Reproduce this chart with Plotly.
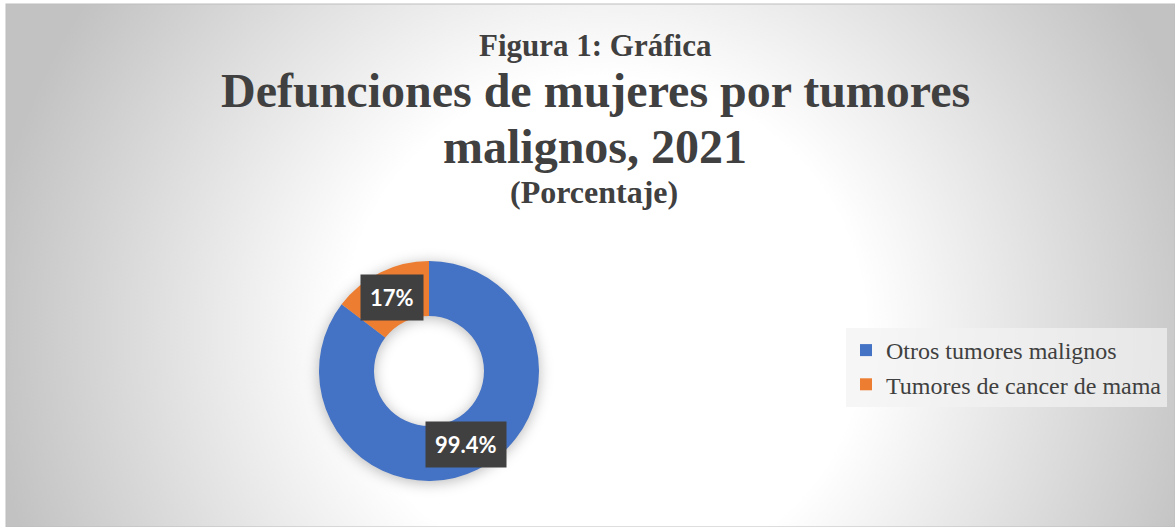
import base64
import math

import plotly.graph_objects as go

W, H = 1175, 527

etiquetas = ["Otros tumores malignos", "Tumores de cancer de mama"]
valores = [99.4, 17]
textos = ["99.4%", "17%"]
colores = ["#4472C4", "#ED7D31"]

encabezado = "Figura 1: Defunciones de mujeres por tumores malignos, 2021 (Porcentaje)"
titulo_sup = "Figura 1: Gráfica"
titulo = ["Defunciones de mujeres por tumores", "malignos, 2021"]
subtitulo = "(Porcentaje)"

GRIS = "#404040"
SERIF = "Liberation Serif"

# geometria del anillo (pixeles)
CX, CY, R, HOLE = 429, 371, 110, 0.5
R_MED = R * (1 + HOLE) / 2


def px_x(x):
    return x / W


def px_y(y):
    return 1 - y / H


# fondo con degradado radial y sombra del anillo
svg = f"""<svg xmlns="http://www.w3.org/2000/svg" width="{W}" height="{H}" viewBox="0 0 {W} {H}">
<defs>
<radialGradient id="g" gradientUnits="userSpaceOnUse" cx="605" cy="330" r="620"
 gradientTransform="translate(605 330) scale(1 0.97) translate(-605 -330)">
<stop offset="0" stop-color="#ffffff"/>
<stop offset="0.42" stop-color="#ffffff"/>
<stop offset="1" stop-color="#c2c2c2"/>
</radialGradient>
<filter id="s" x="-50%" y="-50%" width="200%" height="200%"><feGaussianBlur stdDeviation="7"/></filter>
</defs>
<rect x="0" y="0" width="{W}" height="{H}" fill="#ffffff"/>
<rect x="6" y="4" width="{W - 6}" height="{H - 4}" fill="url(#g)" stroke="#bdbdbd" stroke-width="1"/>
<circle cx="{CX}" cy="{CY + 2}" r="{R_MED}" fill="none" stroke="#000000" stroke-opacity="0.28"
 stroke-width="{R * (1 - HOLE)}" filter="url(#s)"/>
</svg>"""
fondo = "data:image/svg+xml;base64," + base64.b64encode(svg.encode()).decode()

fig = go.Figure(
    go.Pie(
        labels=etiquetas,
        values=valores,
        hole=HOLE,
        sort=False,
        direction="clockwise",
        rotation=0,
        textinfo="none",
        marker=dict(colors=colores, line=dict(width=0)),
        domain=dict(
            x=[px_x(CX - R), px_x(CX + R)],
            y=[px_y(CY + R), px_y(CY - R)],
        ),
        hovertemplate="<b>%{label}</b><br>%{value}%<extra></extra>",
    )
)

anotaciones = [
    dict(text=f"<b>{encabezado}</b>", x=px_x(17), y=px_y(2), xanchor="left", yanchor="bottom",
         font=dict(family=SERIF, size=29, color="black")),
    dict(text=f"<b>{titulo_sup}</b>", x=px_x(595), y=px_y(45),
         font=dict(family=SERIF, size=31, color=GRIS)),
    dict(text=f"<b>{titulo[0]}</b>", x=px_x(595), y=px_y(91),
         font=dict(family=SERIF, size=48, color=GRIS)),
    dict(text=f"<b>{titulo[1]}</b>", x=px_x(595), y=px_y(146),
         font=dict(family=SERIF, size=48, color=GRIS)),
    dict(text=f"<b>{subtitulo}</b>", x=px_x(594), y=px_y(192),
         font=dict(family=SERIF, size=32, color=GRIS)),
]

# etiquetas de datos en el punto medio de cada sector
total = sum(valores)
acum = 0
for v, t in zip(valores, textos):
    ang = (acum + v / 2) / total * 2 * math.pi
    acum += v
    anotaciones.append(dict(
        text=f"<b>{t}</b>",
        x=px_x(CX + R_MED * math.sin(ang)),
        y=px_y(CY - R_MED * math.cos(ang)),
        bgcolor="#404040",
        borderpad=9,
        font=dict(family="Lato", size=22, color="white"),
    ))

for a in anotaciones:
    a.setdefault("xanchor", "center")
    a.setdefault("yanchor", "middle")
    a.update(xref="paper", yref="paper", showarrow=False)

fig.update_layout(
    width=W, height=H,
    margin=dict(l=0, r=0, t=0, b=0),
    paper_bgcolor="white",
    plot_bgcolor="rgba(0,0,0,0)",
    images=[dict(source=fondo, xref="paper", yref="paper", x=0, y=1, sizex=1, sizey=1,
                 xanchor="left", yanchor="top", sizing="stretch", layer="below")],
    annotations=anotaciones,
    showlegend=True,
    legend=dict(
        x=px_x(846), y=px_y(328), xanchor="left", yanchor="top",
        bgcolor="rgba(242,242,242,0.7)",
        font=dict(family=SERIF, size=24, color=GRIS),
        itemwidth=30,
    ),
)

fig.write_html(
    "out.html",
    config={"displayModeBar": False},
    post_script="document.body.style.margin='0';",
)
